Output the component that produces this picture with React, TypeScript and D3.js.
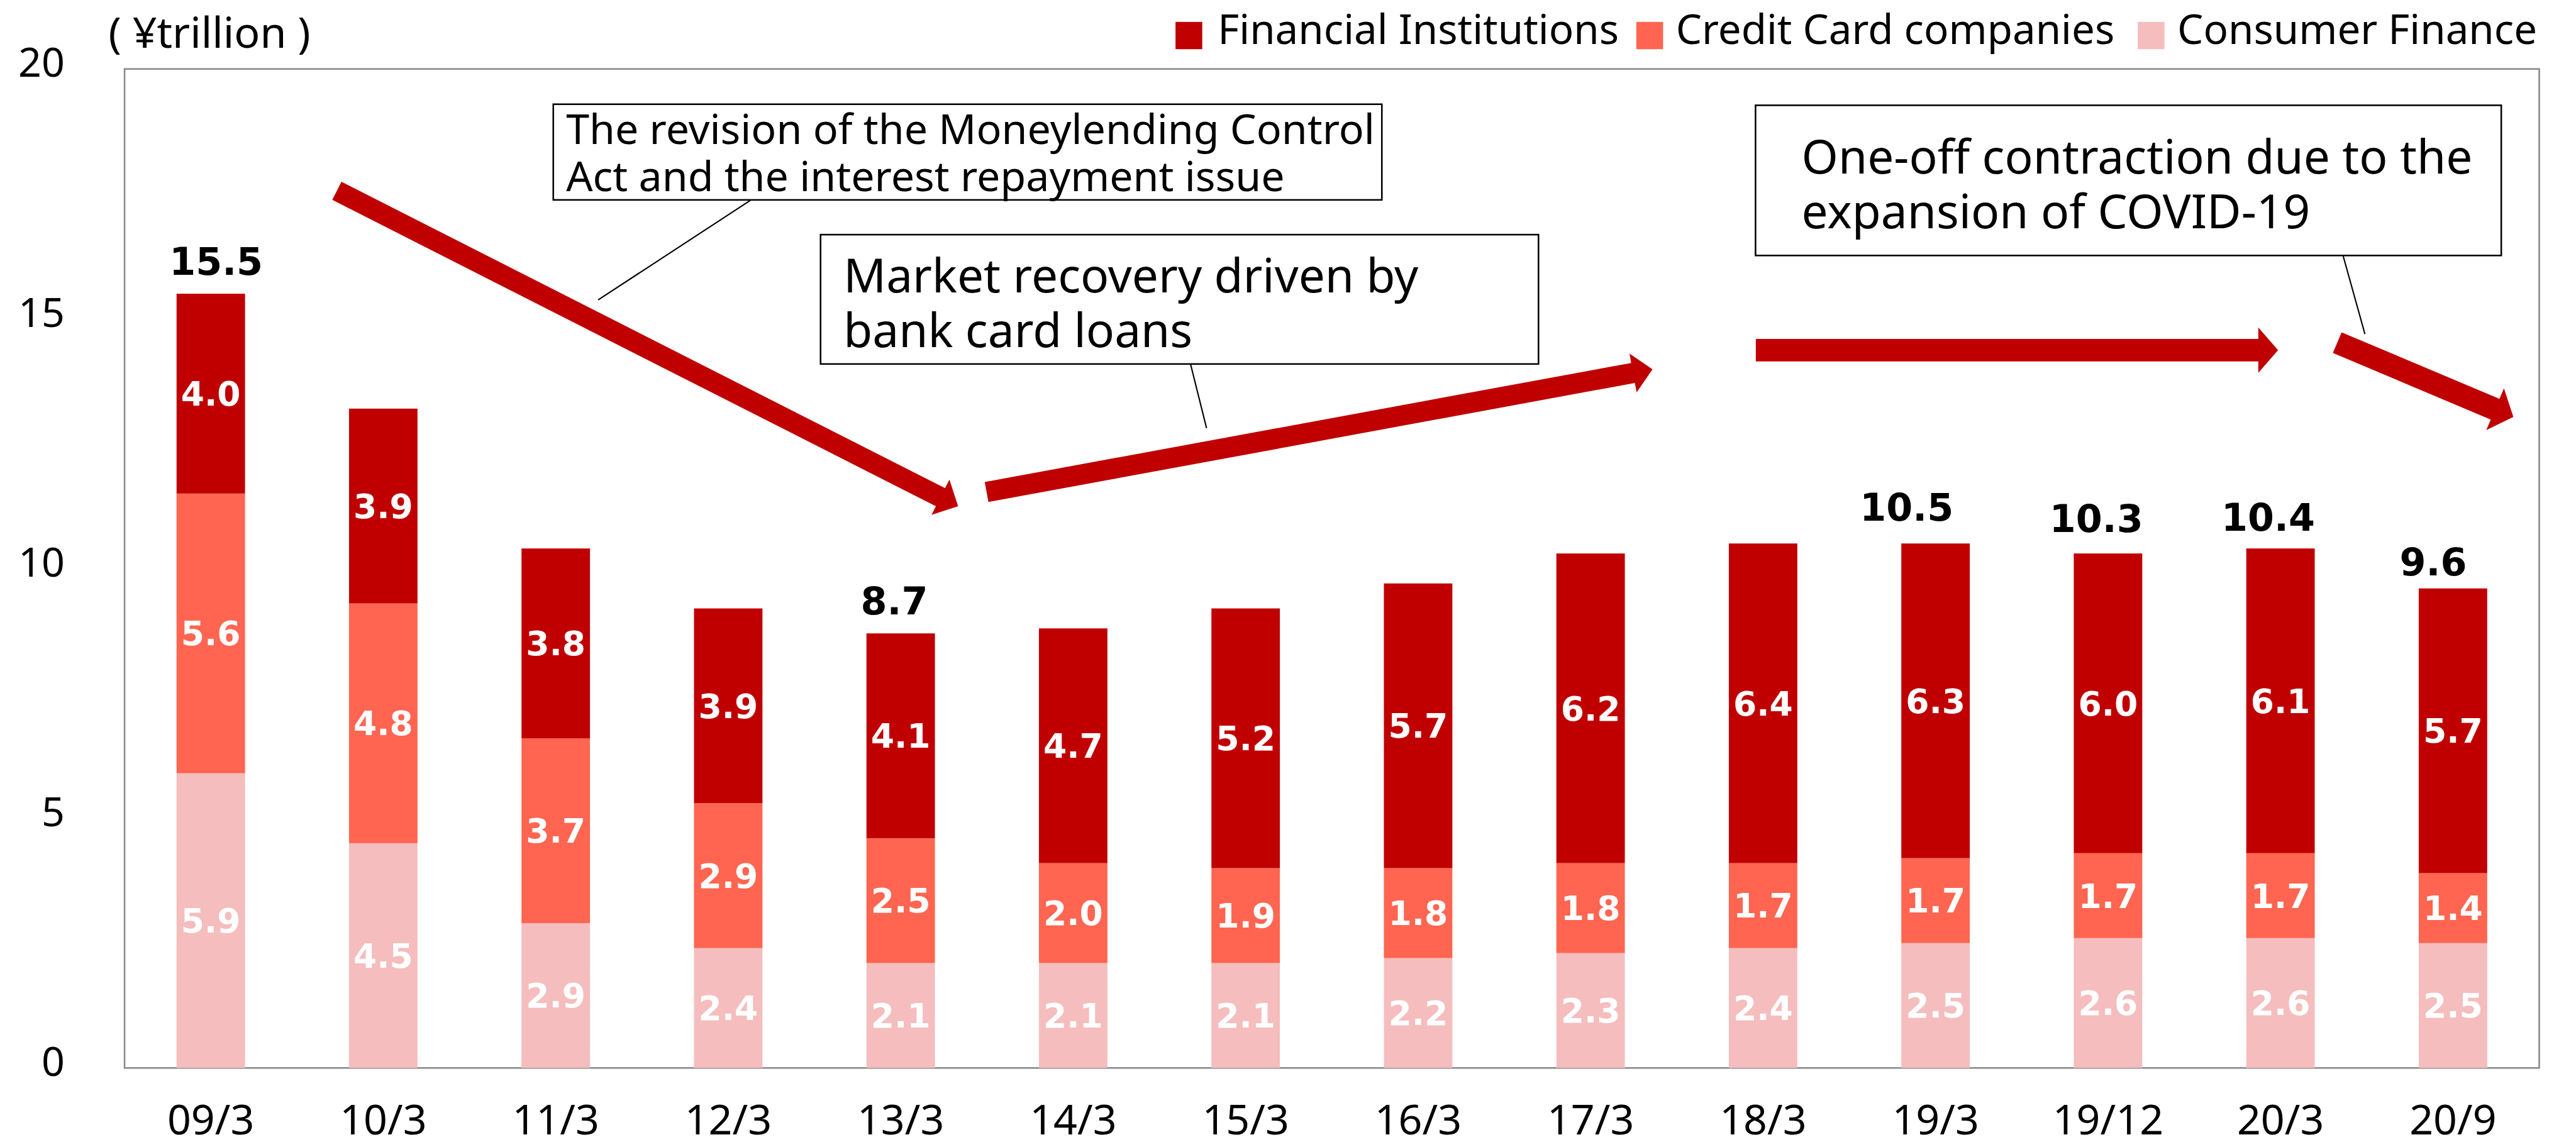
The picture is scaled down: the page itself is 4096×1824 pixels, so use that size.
import React from 'react';
import * as d3 from 'd3';

// ---------- data ----------
const categories = ['09/3', '10/3', '11/3', '12/3', '13/3', '14/3', '15/3', '16/3', '17/3', '18/3', '19/3', '19/12', '20/3', '20/9'];
const consumerFinance = [5.9, 4.5, 2.9, 2.4, 2.1, 2.1, 2.1, 2.2, 2.3, 2.4, 2.5, 2.6, 2.6, 2.5];
const creditCard = [5.6, 4.8, 3.7, 2.9, 2.5, 2.0, 1.9, 1.8, 1.8, 1.7, 1.7, 1.7, 1.7, 1.4];
const financialInstitutions = [4.0, 3.9, 3.8, 3.9, 4.1, 4.7, 5.2, 5.7, 6.2, 6.4, 6.3, 6.0, 6.1, 5.7];
const totalLabels: (string | null)[] = ['15.5', null, null, null, '8.7', null, null, null, null, null, '10.5', '10.3', '10.4', '9.6'];
const seriesNames = ['Financial Institutions', 'Credit Card companies', 'Consumer Finance'];
const yTicks = [0, 5, 10, 15, 20];
const unitLabel = '( ¥trillion )';
const annotationTexts = [
  ['The revision of the Moneylending Control', 'Act and the interest repayment issue'],
  ['Market recovery driven by', 'bank card loans'],
  ['One-off contraction due to the', 'expansion of COVID-19'],
];
// trend arrows in data space: [from band position, from value, to band position, to value]
const trendArrows = [
  [0.731, 17.56, 4.333, 11.247],
  [4.498, 11.53, 8.359, 13.986],
  [8.958, 14.371, 11.986, 14.371],
  [12.329, 14.521, 13.35, 13.034],
];

// ---------- layout (reference pixel space, scaled by 0.85) ----------
const S = 0.85;
const plot = { left: 233, right: 4750, top: 129, bottom: 1998 };
const colors = { fi: '#C00000', cc: '#FF6550', cf: '#F5BDBD' };
const legendPos = [
  { sx: 2199, tx: 2278 },
  { sx: 3061, tx: 3135 },
  { sx: 3999, tx: 4073 },
];
const legendBase = 82;
const totalNudge: Record<number, [number, number]> = {
  0: [10, 35], 4: [-12, 36], 10: [-54, 43], 11: [-22, 40], 12: [-23, 33], 13: [-37, 24],
};
const arrowStyle = [
  { w: 38, hw: 74, hl: 37 },
  { w: 38, hw: 74, hl: 37 },
  { w: 42, hw: 85, hl: 37 },
  { w: 42, hw: 85, hl: 37 },
];
const boxes = [
  { x0: 1035, y0: 195, x1: 2585, y1: 374, tx: 1059, base: [269, 358], fs: 78, leader: [1405, 374, 1119, 561] },
  { x0: 1535, y0: 439, x1: 2878, y1: 681, tx: 1578, base: [547, 650], fs: 88, leader: [2227, 681, 2257, 801] },
  { x0: 3284, y0: 197, x1: 4679, y1: 478, tx: 3370, base: [325, 427], fs: 88, leader: [4383, 478, 4424, 625] },
];
const FONT = '"Noto Sans", sans-serif';
const NUMFONT = '"DejaVu Sans", sans-serif';

function arrowPath(x0: number, y0: number, x1: number, y1: number, w: number, hw: number, hl: number) {
  const dx = x1 - x0, dy = y1 - y0;
  const len = Math.hypot(dx, dy);
  const ux = dx / len, uy = dy / len;
  const nx = -uy, ny = ux;
  const bx = x1 - ux * hl, by = y1 - uy * hl;
  const pts: [number, number][] = [
    [x0 + nx * w / 2, y0 + ny * w / 2],
    [bx + nx * w / 2, by + ny * w / 2],
    [bx + nx * hw / 2, by + ny * hw / 2],
    [x1, y1],
    [bx - nx * hw / 2, by - ny * hw / 2],
    [bx - nx * w / 2, by - ny * w / 2],
    [x0 - nx * w / 2, y0 - ny * w / 2],
  ];
  return d3.line()(pts) + 'Z';
}

export default function App() {
  const x = d3.scaleBand<string>().domain(categories).range([plot.left, plot.right]).paddingInner(0.603).paddingOuter(0.3015);
  const y = d3.scaleLinear().domain([0, 20]).range([plot.bottom, plot.top]);
  const step = x.step();
  const bw = x.bandwidth();
  const fx = (f: number) => (x(categories[0]) as number) + bw / 2 + f * step;

  const rows = categories.map((c, i) => ({ c, cf: consumerFinance[i], cc: creditCard[i], fi: financialInstitutions[i] }));
  const stack = d3.stack<any>().keys(['cf', 'cc', 'fi'])(rows);
  const keyColor: Record<string, string> = { cf: colors.cf, cc: colors.cc, fi: colors.fi };

  return (
    <svg width={4096} height={1824} style={{ position: 'absolute', left: 0, top: 0, background: '#fff' }}>
      <rect x={0} y={0} width={4096} height={1824} fill="#fff" />
      <g transform={`scale(${S})`}>
        {/* plot frame */}
        <rect x={plot.left} y={plot.top} width={plot.right - plot.left} height={plot.bottom - plot.top} fill="none" stroke="#898989" strokeWidth={3} />

        {/* bars */}
        {stack.map((layer) => (
          <g key={layer.key}>
            {layer.map((d, i) => (
              <rect key={i} x={x(categories[i])} y={y(d[1])} width={bw} height={y(d[0]) - y(d[1])} fill={keyColor[layer.key]} />
            ))}
          </g>
        ))}
        {/* segment labels */}
        {stack.map((layer) => (
          <g key={'l' + layer.key}>
            {layer.map((d, i) => (
              <text key={i} x={(x(categories[i]) as number) + bw / 2} y={(y(d[0]) + y(d[1])) / 2} dy="0.36em"
                textAnchor="middle" fill="#fff" fontFamily={NUMFONT} fontWeight="bold" fontSize={63}>
                {(d[1] - d[0]).toFixed(1)}
              </text>
            ))}
          </g>
        ))}
        {/* total labels */}
        {totalLabels.map((t, i) => {
          if (!t) return null;
          const total = consumerFinance[i] + creditCard[i] + financialInstitutions[i];
          const [ndx, gap] = totalNudge[i] || [0, 36];
          return (
            <text key={i} x={(x(categories[i]) as number) + bw / 2 + ndx} y={y(total) - gap} textAnchor="middle"
              fontFamily={NUMFONT} fontWeight="bold" fontSize={71} fill="#000">{t}</text>
          );
        })}

        {/* y axis tick labels */}
        {yTicks.map((v) => (
          <text key={v} x={121} y={y(v) + 15} textAnchor="end" fontFamily={FONT} fontSize={76} fill="#000">{v}</text>
        ))}
        <text x={203} y={89} fontFamily={FONT} fontSize={80} fill="#000">{unitLabel}</text>

        {/* x axis labels */}
        {categories.map((c) => (
          <text key={c} x={(x(c) as number) + bw / 2} y={2122} textAnchor="middle" fontFamily={FONT} fontSize={78} fill="#000">{c}</text>
        ))}

        {/* legend */}
        {seriesNames.map((n, i) => (
          <g key={n}>
            <rect x={legendPos[i].sx} y={legendBase - 41} width={50} height={51} fill={[colors.fi, colors.cc, colors.cf][i]} />
            <text x={legendPos[i].tx} y={legendBase} fontFamily={FONT} fontSize={77} fill="#000">{n}</text>
          </g>
        ))}

        {/* trend arrows */}
        {trendArrows.map((a, i) => (
          <path key={i} d={arrowPath(fx(a[0]), y(a[1]), fx(a[2]), y(a[3]), arrowStyle[i].w, arrowStyle[i].hw, arrowStyle[i].hl)} fill={colors.fi} />
        ))}

        {/* annotation boxes */}
        {boxes.map((b, i) => (
          <g key={i}>
            <line x1={b.leader[0]} y1={b.leader[1]} x2={b.leader[2]} y2={b.leader[3]} stroke="#000" strokeWidth={2.5} />
            <rect x={b.x0} y={b.y0} width={b.x1 - b.x0} height={b.y1 - b.y0} fill="#fff" stroke="#000" strokeWidth={3} />
            {annotationTexts[i].map((t, j) => (
              <text key={j} x={b.tx} y={b.base[j]} fontFamily={FONT} fontSize={b.fs} fill="#000">{t}</text>
            ))}
          </g>
        ))}
      </g>
    </svg>
  );
}
